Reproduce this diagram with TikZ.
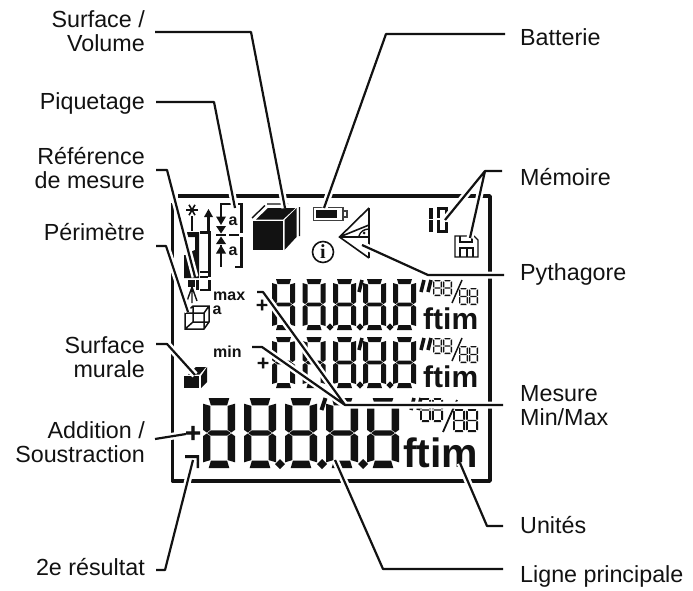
\documentclass[tikz,border=0pt]{standalone}
\usepackage{fontspec}
\setmainfont{Liberation Sans}
\newfontfamily\plusfont[FakeBold=4]{DejaVu Sans Bold}
\newfontfamily\infofont{Liberation Serif}
\usepackage{tikz}
\usetikzlibrary{arrows.meta}
\usetikzlibrary{calc}
\definecolor{lcdblack}{gray}{0.07}
\tikzset{
  label/.style={font=\fontsize{23.3}{24}\selectfont, inner sep=0pt, text=lcdblack, align=right},
  leader/.style={line width=2.2pt, line join=round, draw=lcdblack, preaction={draw=white, line width=7pt}},
  lcdmark/.style={font=\fontsize{16}{16}\selectfont\bfseries, inner sep=0pt, text=lcdblack},
  plusmark/.style={inner sep=0pt, text=lcdblack},
  thinline/.style={line width=1.4pt, draw=lcdblack},
  barline/.style={line width=2.3pt, draw=lcdblack},
  solid/.style={fill=lcdblack},
}
% one seven segment figure: x, y, width, height, thickness
\newcommand{\lcdnum}[5]{
\begin{scope}[shift={(#1,#2)}]
\pgfmathsetmacro{\w}{#3}\pgfmathsetmacro{\h}{#4}\pgfmathsetmacro{\t}{#5}
\pgfmathsetmacro{\c}{0.7*\t}\pgfmathsetmacro{\m}{\h/2}\pgfmathsetmacro{\d}{0.36*\t}\def\g{0.5}
\fill[solid] (\c+\g,0)--(\w-\c-\g,0)--(\w-\t-\g,\t)--(\t+\g,\t)--cycle;
\fill[solid] (\c+\g,\h)--(\w-\c-\g,\h)--(\w-\t-\g,\h-\t)--(\t+\g,\h-\t)--cycle;
\fill[solid] (\t/2+\g,\m)--(\t+\g,\m-\d)--(\w-\t-\g,\m-\d)--(\w-\t/2-\g,\m)--(\w-\t-\g,\m+\d)--(\t+\g,\m+\d)--cycle;
\fill[solid] (0,\c+\g)--(\t,\t+\g)--(\t,\m-\d-\g)--(\t/2,\m-\g)--(0,\m-\d-\g)--cycle;
\fill[solid] (\w,\c+\g)--(\w-\t,\t+\g)--(\w-\t,\m-\d-\g)--(\w-\t/2,\m-\g)--(\w,\m-\d-\g)--cycle;
\fill[solid] (0,\h-\c-\g)--(\t,\h-\t-\g)--(\t,\m+\d+\g)--(\t/2,\m+\g)--(0,\m+\d+\g)--cycle;
\fill[solid] (\w,\h-\c-\g)--(\w-\t,\h-\t-\g)--(\w-\t,\m+\d+\g)--(\w-\t/2,\m+\g)--(\w,\m+\d+\g)--cycle;
\end{scope}
}
% decimal point
\newcommand{\lcddot}[3]{\fill[solid] (#1-#3,#2)--(#1,#2-#3)--(#1+#3,#2)--(#1,#2+#3)--cycle;}
\begin{document}
\begin{tikzpicture}[x=1pt,y=-1pt]
\useasboundingbox (0,0) rectangle (693,591);
% display frame
\draw[line width=3.4pt, draw=lcdblack, line join=round] (172.5,203)--(172.5,481)--(490,481)--(490,196)--(178,196);
% main line
\foreach \px in {203,244,285,326,367} {\lcdnum{\px}{398}{32}{70}{7.4}}
\foreach \px in {280,322,363} {\lcddot{\px}{464}{5}}
% upper lines
\foreach \py in {279,337} {
  \foreach \px in {272,302.5,333,363,393} {\lcdnum{\px}{\py}{23}{51}{5}}
  \foreach \px in {330,360,390} {\lcddot{\px}{\py+48}{3.6}}
  \draw[line width=3.6pt, draw=lcdblack] (362,\py+1)--(359,\py+13);
  \draw[line width=3.6pt, draw=lcdblack] (424,\py+1)--(421,\py+13);
  \draw[line width=3.6pt, draw=lcdblack] (431,\py+1)--(428,\py+13);
  \lcdnum{433}{\py+1}{9}{16}{1.4}
  \lcdnum{443}{\py+1}{9}{16}{1.4}
  \lcdnum{459}{\py+9}{9}{17}{1.4}
  \lcdnum{469}{\py+9}{9}{17}{1.4}
  \draw[line width=1.5pt, draw=lcdblack] (452,\py+24)--(462,\py+1);
}
\draw[line width=4pt, draw=lcdblack] (325.5,398)--(321.5,410);
\draw[line width=3.6pt, draw=lcdblack] (414,398)--(411,410);
\draw[line width=3.6pt, draw=lcdblack] (421,398)--(418,410);
\lcdnum{420}{398}{11}{24}{1.8}
\lcdnum{432}{398}{11}{24}{1.8}
\lcdnum{453}{409}{12}{23}{1.8}
\lcdnum{466}{409}{12}{23}{1.8}
\draw[line width=1.8pt, draw=lcdblack] (443,432)--(457,400);
% units and marks
\node[lcdmark, anchor=base west, font=\fontsize{30}{30}\selectfont\bfseries] (ftimA) at (423,329) {ftim};
\node[lcdmark, anchor=base west, font=\fontsize{30}{30}\selectfont\bfseries] (ftimB) at (423,387) {ftim};
\node[lcdmark, anchor=base west, font=\fontsize{41}{41}\selectfont\bfseries] (ftimC) at (403,467) {ftim};
\node[lcdmark, anchor=base west] (maxmark) at (213,300) {max};
\node[lcdmark, anchor=base west] (minmark) at (213,357) {min};
\node[lcdmark] (aperi) at (217,310) {a};
\node[lcdmark] (aupper) at (233,221) {a};
\node[lcdmark] (alower) at (233,251) {a};
\node[plusmark, font=\plusfont\fontsize{16}{16}\selectfont] (plusA) at (262,305) {+};
\node[plusmark, font=\plusfont\fontsize{16}{16}\selectfont] (plusB) at (263,363) {+};
\node[plusmark, font=\plusfont\fontsize{21}{21}\selectfont] (plusC) at (193,433) {+};
% reference icon
\foreach \ang in {0,60,120} {\draw[line width=1.6pt, draw=lcdblack] (192,210)+(\ang:6)--+(\ang+180:6);}
\draw[line width=2pt, draw=lcdblack] (192,216)--(192,231);
\fill[solid] (187,232)--(199,232)--(199,278)--(184,278)--(184,255)--(190,255)--(190,252)--(195,250)--(195,237)--(187,237)--cycle;
\fill[solid] (188,280)--(195,280)--(195,287)--(188,287)--cycle;
\fill[solid] (196,280)--(198.5,280)--(198.5,290)--(196,290)--cycle;
\draw[thinline] (192,287)--(187,301) (192,287)--(192,303) (192,287)--(197,301);
\draw[barline] (200,232.5)--(209.5,232.5)--(209.5,277) (200,272)--(208,272) (200,277)--(208,277) (209.5,280)--(209.5,290)--(200,290);
\draw[barline] (208.5,231)--(208.5,215);
\fill[solid] (208.5,209)--(213,217)--(204,217)--cycle;
% stake out icon
\draw[barline] (233,204)--(221,204)--(221,218) (238,204)--(241.5,204)--(241.5,233) (241.5,237)--(241.5,267)--(235,267);
\draw[barline] (216,235)--(226,235) (229,235)--(239,235);
\draw[barline] (221,245)--(221,267);
\fill[solid] (216,216.5)--(226,216.5)--(221,225)--cycle;
\fill[solid] (216,226)--(226,226)--(221,233.5)--cycle;
\fill[solid] (216,244)--(226,244)--(221,236.5)--cycle;
\fill[solid] (216,253.5)--(226,253.5)--(221,245)--cycle;
% perimeter icon
\draw[line width=1.5pt, draw=lcdblack] (193,306)--(209,306)--(209,322)--(204,329)--(185,329)--(185,313)--(193,306) (185,313)--(204,313)--(209,306) (204,313)--(204,329) (193,306)--(193,322)--(209,322) (193,322)--(185,329);
% surface icons
\fill[solid] (253,221)--(283,221)--(283,250)--(253,250)--cycle;
\fill[solid] (284.5,220)--(296.5,208)--(296.5,237)--(284.5,250)--cycle;
\fill[solid] (256,219.5)--(268,208)--(295.5,208)--(283,219.5)--cycle;
\draw[thinline] (252,218)--(265,205.5) (267,204)--(288,204) (299.5,207)--(299.5,236);
\fill[solid] (184,376)--(199,376)--(199,388)--(184,388)--cycle;
\fill[solid] (201,376)--(207,367)--(207,382)--(201,388)--cycle;
\fill[solid] (188,374.5)--(196,367)--(206,367)--(199.5,374.5)--cycle;
% second result icon
\fill[solid] (185,455)--(199,455)--(199,468)--(196.5,468)--(196.5,458)--(185,458)--cycle;
% battery
\draw[line width=1.4pt, draw=black!75] (313.5,207.5) rectangle (343,220.5);
\draw[line width=1.4pt, draw=black!75] (343,211)--(347,211)--(347,217)--(343,217);
\fill[solid] (316,210)--(337,210)--(337,218)--(316,218)--cycle;
% pythagoras icon
\draw[line width=1.6pt, draw=lcdblack] (369,208)--(339.5,237)--(369,258) (369,225)--(339.5,237);
\draw[line width=2pt, draw=lcdblack] (339.5,237)--(369,237);
\draw[thinline] (369,208)--(369,258);
\draw[thinline] (359,236) .. controls (360,232) and (364,229) .. (369,229);
\fill[solid] (364,233) circle[radius=1.5];
% info icon
\draw[line width=1.6pt, draw=lcdblack] (323,252) circle[radius=10.5];
\node[inner sep=0pt, text=lcdblack, font=\infofont\fontsize{20}{20}\selectfont\bfseries] (infomark) at (323,252) {i};
% memory icons
\fill[solid] (428.5,208)--(432.5,208)--(432.5,219)--(428.5,219)--cycle;
\fill[solid] (428.5,220)--(432.5,220)--(432.5,232)--(428.5,232)--cycle;
\draw[line width=3pt, draw=lcdblack] (446,222)--(446,231)--(438.5,231)--(438.5,220) (438.5,218)--(438.5,208.5)--(446,208.5)--(446,218);
\draw[thinline] (455,236)--(474,236)--(478,240)--(478,257)--(455,257)--cycle;
\draw[thinline] (460,236)--(460,242)--(472,242)--(472,236) (460,257)--(460,248)--(473,248)--(473,257) (467,248)--(467,257);
% leaders
\node[label, anchor=base east] (surface) at (145,52) {Surface /\\Volume};
\node[label, anchor=base east] (piquetage) at (145,110) {Piquetage};
\node[label, anchor=base east] (reference) at (145,188) {Référence\\de mesure};
\node[label, anchor=base east] (perimetre) at (145,240) {Périmètre};
\node[label, anchor=base east] (murale) at (145,377) {Surface\\murale};
\node[label, anchor=base east] (addition) at (145,462) {Addition /\\Soustraction};
\node[label, anchor=base east] (second) at (145,575) {2e résultat};
\node[label, anchor=base west] (batterie) at (520,46) {Batterie};
\node[label, anchor=base west] (memoire) at (520,185) {Mémoire};
\node[label, anchor=base west] (pythagore) at (520,280) {Pythagore};
\node[label, anchor=base west, align=left] (mesure) at (520,425) {Mesure\\Min/Max};
\node[label, anchor=base west] (unites) at (520,533) {Unités};
\node[label, anchor=base west] (ligne) at (520,582) {Ligne principale};
\coordinate (surfaceTip) at (285,208);
\coordinate (piquetageTip) at (235,208);
\coordinate (referenceTip) at (195,277);
\coordinate (perimetreTip) at (188,312);
\coordinate (muraleTip) at (195,375);
\coordinate (additionTip) at (186,434);
\coordinate (secondTip) at (193,460);
\coordinate (batterieTip) at (324,208);
\coordinate (icTip) at (445,220);
\coordinate (floppyTip) at (470,238);
\coordinate (pythagoreTip) at (362,245);
\coordinate (maxTip) at (257,292);
\coordinate (minTip) at (252,347);
\coordinate (unitesTip) at (460,463);
\coordinate (ligneTip) at (335,460);
\draw[leader] (155,32)--(251,32)--(surfaceTip);
\draw[leader] (156,102)--(214,102)--(piquetageTip);
\draw[leader] (156,170)--(167,170)--(referenceTip);
\draw[leader] (156,246)--(166,246)--(perimetreTip);
\draw[leader] (156,344)--(167,344)--(muraleTip);
\draw[leader] (155,439)--(additionTip);
\draw[leader] (156,570)--(165,570)--(secondTip);
\draw[leader] (505,34)--(386,34)--(batterieTip);
\draw[leader] (502,171)--(485,171)--(icTip) (485,171)--(floppyTip);
\draw[leader] (504,275)--(428,275)--(pythagoreTip);
\draw[leader] (503,405)--(345,405)--(263,292)--(maxTip) (345,405)--(262,347)--(minTip);
\draw[leader] (503,526)--(487,526)--(unitesTip);
\draw[leader] (503,569)--(383,569)--(ligneTip);
\end{tikzpicture}
\end{document}
